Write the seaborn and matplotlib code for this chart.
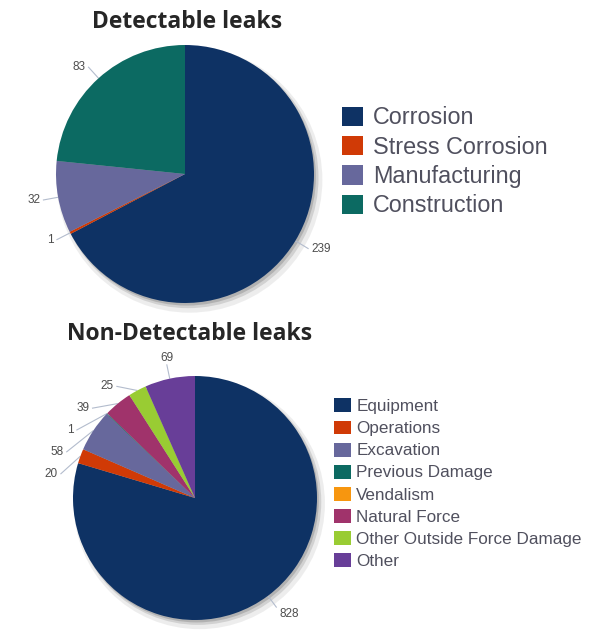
import numpy as np
import matplotlib
matplotlib.use("Agg")
import matplotlib.pyplot as plt
import seaborn as sns
from matplotlib.patches import Circle, Patch

# ---------------- data ----------------
det_labels = ["Corrosion", "Stress Corrosion", "Manufacturing", "Construction"]
det_values = [239, 1, 32, 83]
det_colors = ["#0e3264", "#d03a06", "#67689c", "#0c6a62"]

non_labels = ["Equipment", "Operations", "Excavation", "Previous Damage",
              "Vendalism", "Natural Force", "Other Outside Force Damage", "Other"]
non_values = [828, 20, 58, 1, 0, 39, 25, 69]
non_colors = ["#0e3264", "#d03a06", "#67689c", "#0c6a62",
              "#f7960f", "#a0336b", "#99cc33", "#683e98"]

titles = ["Detectable leaks", "Non-Detectable leaks"]

# ---------------- style ----------------
sns.set_theme(style="white")
plt.rcParams['font.family'] = ['Liberation Sans', 'DejaVu Sans']

W, H = 603, 630
fig = plt.figure(figsize=(W / 100, H / 100), dpi=100)

LIM = 1.45


def place_ax(cx, cy, r):
    half = LIM * r
    return fig.add_axes([(cx - half) / W, (H - cy - half) / H, 2 * half / W, 2 * half / H])


def draw_pie(ax, values, colors, label_size=8.5):
    for off, rad, a in [((0.035, -0.045), 1.03, 0.10), ((0.025, -0.03), 1.01, 0.18),
                        ((0.015, -0.02), 1.0, 0.25)]:
        ax.add_patch(Circle(off, rad, color="#555555", alpha=a, lw=0, zorder=0))
    wedges, _ = ax.pie(values, colors=colors, startangle=90, counterclock=False,
                       radius=1, wedgeprops=dict(linewidth=0, zorder=2))
    ax.set_xlim(-LIM, LIM)
    ax.set_ylim(-LIM, LIM)
    ax.set_aspect("equal")
    ax.axis("off")

    # label positions: on a circle, spread vertically on each side
    R = 1.12
    gap = 0.18
    items = []
    for w, v in zip(wedges, values):
        if v <= 0:
            continue
        th = np.deg2rad((w.theta1 + w.theta2) / 2)
        items.append(dict(v=v, th=th, x=np.cos(th), y=np.sin(th)))
    for side in (-1, 1):
        grp = [it for it in items if np.sign(it["x"]) == side or (it["x"] == 0 and side == 1)]
        grp.sort(key=lambda it: -it["y"])
        prev = None
        for it in grp:
            ly = R * it["y"]
            if prev is not None:
                ly = min(ly, prev - gap)
            prev = ly
            ly = max(min(ly, R), -R)
            lx = side * np.sqrt(max(R * R - ly * ly, 0))
            it["lx"], it["ly"] = lx, ly
    for it in items:
        ex, ey = it["x"], it["y"]
        lx, ly = it["lx"], it["ly"]
        ax.plot([ex, lx], [ey, ly], color="#b3bccd", lw=0.8, zorder=1,
                solid_capstyle="butt", clip_on=False)
        ha = "center" if abs(lx) < 0.3 else ("right" if lx < 0 else "left")
        if ha == "center":
            va = "bottom" if ly > 0 else "top"
        else:
            va = "top" if ly < -0.85 else "center"
        dx = 0 if ha == "center" else (-0.02 if lx < 0 else 0.02)
        ax.text(lx + dx, ly, str(it["v"]), ha=ha, va=va, fontsize=label_size,
                color="#4d4d4d", clip_on=False)
    return wedges


# top pie
ax1 = place_ax(185, 174, 129)
w1 = draw_pie(ax1, det_values, det_colors)
# bottom pie
ax2 = place_ax(195, 498, 122)
w2 = draw_pie(ax2, non_values, non_colors)

title_font = ['Open Sans', 'DejaVu Sans']
fig.text(187 / W, 1 - 22 / H, titles[0], ha="center", va="center", fontsize=16.5,
         fontweight="bold", family=title_font, color="#262626")
fig.text(190 / W, 1 - 334 / H, titles[1], ha="center", va="center", fontsize=16.5,
         fontweight="bold", family=title_font, color="#262626")

h1 = [Patch(facecolor=c, edgecolor="none") for c in det_colors]
leg1 = fig.legend(h1, det_labels, loc="upper left", bbox_to_anchor=(342 / W, 1 - 106.5 / H),
                  frameon=False, fontsize=16.8, handlelength=0.9, handleheight=0.9,
                  handletextpad=0.43, labelspacing=0.27, borderpad=0, borderaxespad=0,
                  labelcolor="#50505e")
h2 = [Patch(facecolor=c, edgecolor="none") for c in non_colors]
leg2 = fig.legend(h2, non_labels, loc="upper left", bbox_to_anchor=(334 / W, 1 - 398.5 / H),
                  frameon=False, fontsize=12.3, handlelength=1.0, handleheight=0.88,
                  handletextpad=0.3, labelspacing=0.36, borderpad=0, borderaxespad=0,
                  labelcolor="#50505e")

fig.savefig("out.png", dpi=100)
